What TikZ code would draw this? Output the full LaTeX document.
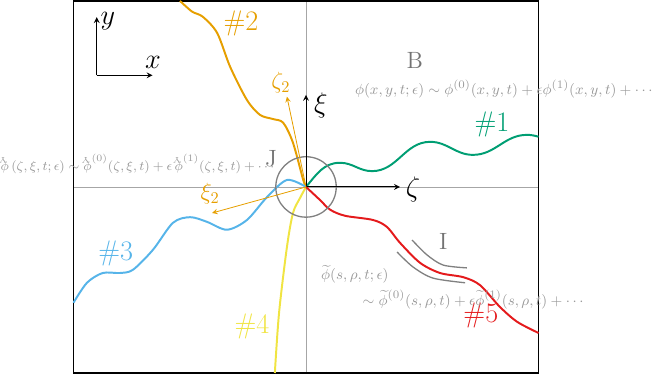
\documentclass[tikz,border=0pt]{standalone}
\usepackage{amsmath}
\usepackage{amssymb}
\usepackage{xcolor}
\usetikzlibrary{calc}

\definecolor{cOrange}{RGB}{230,159,0}
\definecolor{cBlue}{RGB}{86,180,233}
\definecolor{cGreen}{RGB}{0,158,115}
\definecolor{cYellow}{RGB}{240,228,66}
\definecolor{cRed}{RGB}{228,26,28}
\newcommand{\turnphi}{{\phi\makebox[0pt][r]{\raisebox{1.25ex}{\rotatebox[origin=c]{180}{$\scriptscriptstyle\mathrm{Y}$}}\hspace{1.1pt}}}}

\begin{document}
\begin{tikzpicture}[curve/.style={line width=1.2pt}, axis/.style={->, >=stealth, black, line width=0.6pt}, dir/.style={->, >=stealth, cOrange, line width=0.5pt}, eqn/.style={black!40, font=\fontsize{9.4}{11}\selectfont}, tag/.style={font=\LARGE}, region/.style={black!55, font=\Large}]
  \useasboundingbox (-6.58,-4.13) rectangle (7.59,4.02);
  \coordinate (O) at (0,0);
  \draw[black!35] (-5,0) -- (5,0);
  \draw[black!35] (0,-4) -- (0,4);
  \draw[line width=1pt] (-5,-4) rectangle (5,4);

  % physical axes
  \begin{scope}[shift={(-4.5,2.4)}]
    \coordinate (C) at (0,0);
    \coordinate (xend) at (1.2,0);
    \coordinate (yend) at (0,1.25);
    \draw[axis] (C) -- (xend);
    \draw[axis] (C) -- (yend);
    \node (xlbl) at (1.21,0.28) [tag] {$x$};
    \node (ylbl) at (0.24,1.17) [tag] {$y$};
  \end{scope}

  % the five curves
  \draw[curve, cGreen] (O) to[out=50,in=180] (0.73,0.52) to[out=0,in=180] (1.42,0.34) to[out=0,in=180] (2.67,0.97) to[out=0,in=180] (3.59,0.69) to[out=0,in=180] (4.75,1.12) to[out=0,in=165] (5,1.08);
  \draw[curve, cOrange] plot[smooth] coordinates {(-2.71,4) (-2.45,3.77) (-2.22,3.66) (-1.91,3.31) (-1.63,2.58) (-1.27,1.87) (-0.99,1.55) (-0.71,1.46) (-0.49,1.38) (-0.28,0.95) (-0.06,0.15) (0,0)};
  \draw[curve, cBlue] plot[smooth] coordinates {(-5,-2.49) (-4.71,-2.06) (-4.37,-1.85) (-4,-1.85) (-3.72,-1.78) (-3.29,-1.35) (-2.86,-0.77) (-2.49,-0.65) (-2.13,-0.75) (-1.7,-0.92) (-1.27,-0.71) (-0.84,-0.22) (-0.41,0.15) (0,0)};
  \draw[curve, cYellow] plot[smooth] coordinates {(0,0) (-0.13,-0.24) (-0.28,-0.56) (-0.41,-1.29) (-0.58,-2.71) (-0.67,-4)};
  \draw[curve, cRed] plot[smooth] coordinates {(0,0) (0.3,-0.28) (0.52,-0.49) (0.84,-0.62) (1.44,-0.71) (1.74,-0.86) (2.02,-1.2) (2.45,-1.63) (2.88,-1.85) (3.38,-1.94) (3.74,-2.11) (4.17,-2.58) (4.54,-2.9) (5,-3.14)};

  % region I
  \draw[gray, line width=0.8pt] plot[smooth] coordinates {(2.28,-1.14) (2.6,-1.46) (2.95,-1.68) (3.46,-1.74)};
  \draw[gray, line width=0.8pt] plot[smooth] coordinates {(1.96,-1.4) (2.3,-1.72) (2.73,-1.96) (3.42,-2.06)};

  \draw[gray, line width=0.8pt] (O) circle (0.65);

  % local axes
  \coordinate (zetaend) at (2.02,0);
  \coordinate (xiend) at (0,1.98);
  \draw[axis] (O) -- (zetaend);
  \draw[axis] (O) -- (xiend);
  \node (zetalbl) at (2.3,-0.06) [tag] {$\zeta$};
  \node (xilbl) at (0.32,1.76) [tag] {$\xi$};

  \coordinate (zetatwo) at (-0.41,1.94);
  \coordinate (xitwo) at (-2.02,-0.56);
  \draw[dir] (O) -- (zetatwo);
  \draw[dir] (O) -- (xitwo);
  \node (zetatwolbl) at (-0.54,2.24) [cOrange, font=\Large] {$\zeta_2$};
  \node (xitwolbl) at (-2.06,-0.15) [cOrange, font=\Large] {$\xi_2$};

  % curve tags
  \node (tag1) at (4.0,1.35) [tag, cGreen] {\#1};
  \node (tag2) at (-1.4,3.51) [tag, cOrange] {\#2};
  \node (tag3) at (-4.09,-1.42) [tag, cBlue] {\#3};
  \node (tag4) at (-1.16,-2.99) [tag, cYellow] {\#4};
  \node (tag5) at (3.76,-2.77) [tag, cRed] {\#5};

  % regions and expansions
  \node (regB) at (2.34,2.71) [region] {B};
  \node (regJ) at (-0.75,0.6) [region] {J};
  \node (regI) at (2.95,-1.18) [region] {I};
  \node (eqB) at (4.28,2.11) [eqn] {$\phi(x,y,t;\epsilon) \sim \phi^{(0)}(x,y,t) + \epsilon\phi^{(1)}(x,y,t) + \cdots$};
  \node (eqJ) at (-3.6,0.5) [eqn, font=\fontsize{8.2}{10}\selectfont] {$\turnphi\,(\zeta,\xi,t;\epsilon) \sim \turnphi^{(0)}(\zeta,\xi,t) + \epsilon\,\turnphi^{(1)}(\zeta,\xi,t) + \cdots$};
  \node (eqIa) at (1.05,-1.88) [eqn] {$\widetilde{\phi}(s,\rho,t;\epsilon)$};
  \node (eqIb) at (3.62,-2.42) [eqn] {$\sim \widetilde{\phi}^{(0)}(s,\rho,t) + \epsilon\widetilde{\phi}^{(1)}(s,\rho,t) + \cdots$};
\end{tikzpicture}
\end{document}
